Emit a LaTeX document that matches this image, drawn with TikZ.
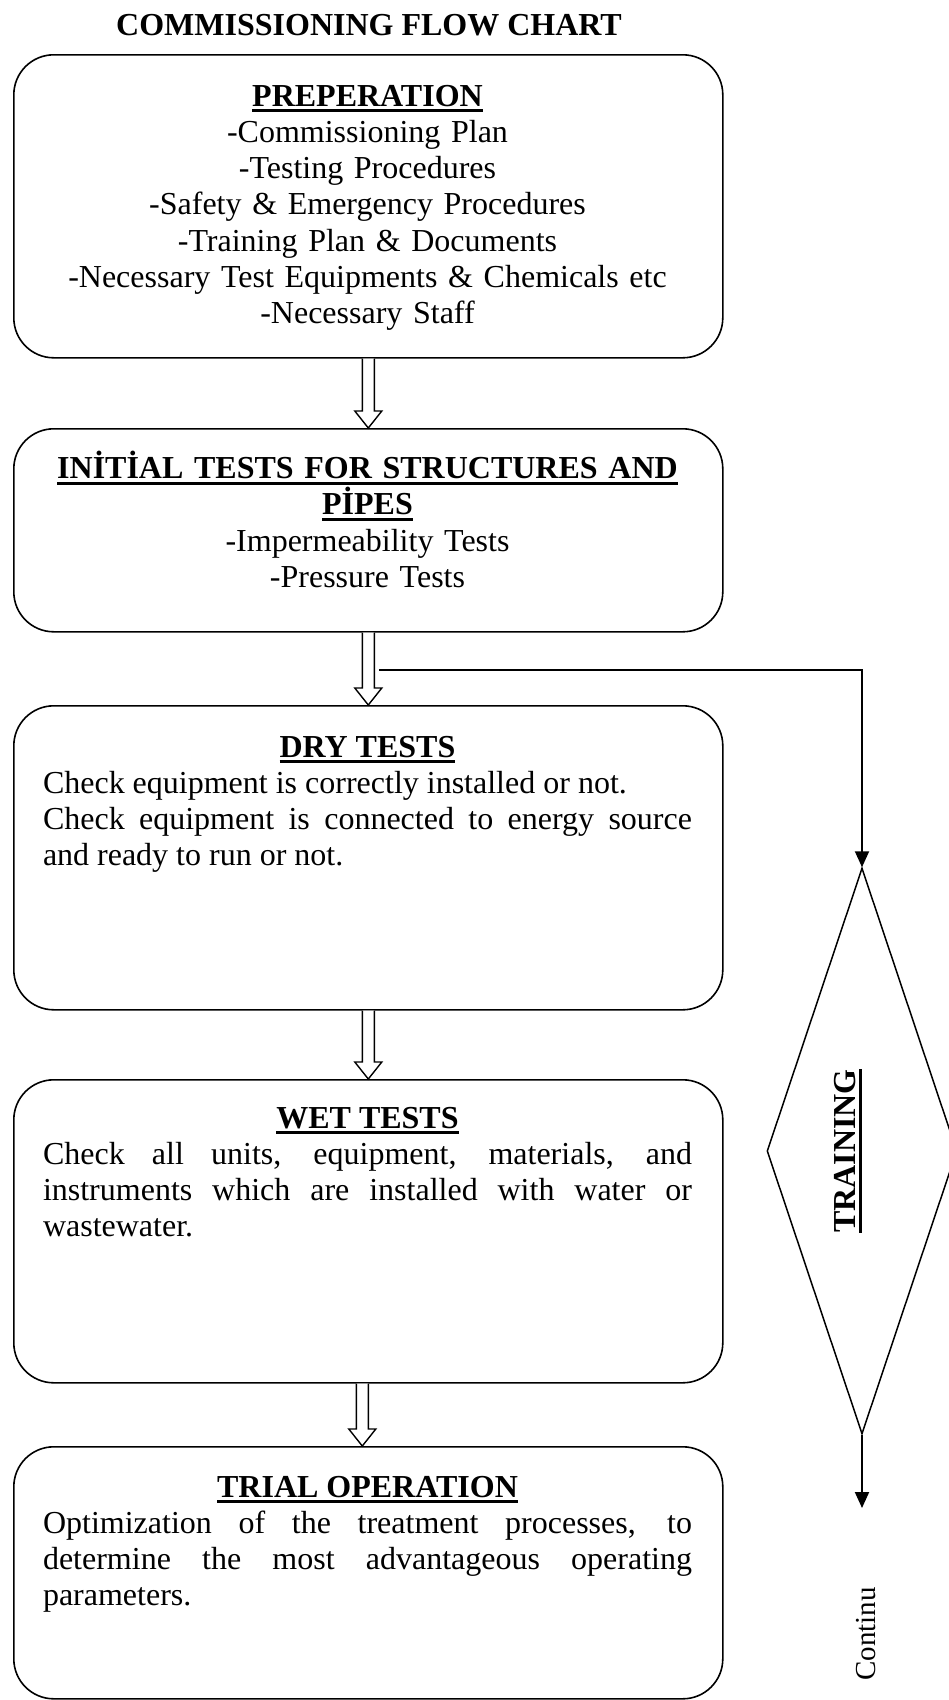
\documentclass[tikz,border=0pt]{standalone}
\usepackage{fontspec}
\setmainfont{Liberation Serif}
\usetikzlibrary{shapes.geometric,arrows.meta,calc}
\setlength\parindent{0pt}
\newcommand\ulbf[1]{\leavevmode\setbox0\hbox{\bfseries #1}\rlap{\rule[-6pt]{\wd0}{2.8pt}}\box0}
\newcommand\hollowarrow[3]{%
  \draw[harr] let \p1=(#1), \p2=(#2) in
    (\x1+#3-6,\y1) -- (\x1+#3-6,\y2+17) -- (\x1+#3-13.5,\y2+17) -- (\x1+#3,\y2)
    -- (\x1+#3+13.5,\y2+17) -- (\x1+#3+6,\y2+17) -- (\x1+#3+6,\y1);}
\tikzset{
  box/.style={draw, line width=1.6pt, rounded corners=40pt, minimum width=709pt, anchor=north west, inner sep=0pt},
  txt/.style={anchor=north, inner sep=0pt, text width=649pt, font=\fontsize{32}{36.2}\selectfont},
  harr/.style={line width=1.4pt, fill=white, line join=miter},
  conn/.style={line width=2pt, -{Triangle[width=14pt,length=16pt]}},
  dia/.style={diamond, draw, line width=1.5pt, minimum width=190pt, minimum height=566pt, inner sep=0pt}
}
\begin{document}
\begin{tikzpicture}[x=1pt,y=-1pt]
\useasboundingbox (0,0) rectangle (949,1700);
\fill[white] (0,0) rectangle (949,1700);

\node[anchor=base, inner sep=0pt, font=\fontsize{32}{36.2}\selectfont\bfseries] (title) at (369,35) {COMMISSIONING FLOW CHART};

\node[box, minimum height=303pt] (b1) at (13,54) {};
\node[box, minimum height=203pt] (b2) at (13,428) {};
\node[box, minimum height=304pt] (b3) at (13,705) {};
\node[box, minimum height=303pt] (b4) at (13,1079) {};
\node[box, minimum height=252pt] (b5) at (13,1446) {};

\node[txt, align=center] (t1) at (367.5,82) {\rule{0pt}{24pt}\ulbf{PREPERATION}\\
-Commissioning Plan\\
-Testing Procedures\\
-Safety \& Emergency Procedures\\
-Training Plan \& Documents\\
-Necessary Test Equipments \& Chemicals etc\\
-Necessary Staff};

\node[txt, align=center] (t2) at (367.5,451) {\rule{0pt}{24pt}\ulbf{INİTİAL TESTS FOR STRUCTURES AND}\\
\ulbf{PİPES}\\
-Impermeability Tests\\
-Pressure Tests};

\node[txt, align=justify] (t3) at (367.5,733) {\rule{0pt}{24pt}\hfill\ulbf{DRY TESTS}\hfill\null\par
Check equipment is correctly installed or not.\par
Check equipment is connected to energy source\linebreak and ready to run or not.};

\node[txt, align=justify] (t4) at (367.5,1104) {\rule{0pt}{24pt}\hfill\ulbf{WET TESTS}\hfill\null\par
Check all units, equipment, materials, and\linebreak instruments which are installed with water or\linebreak wastewater.};

\node[txt, align=justify] (t5) at (367.5,1473) {\rule{0pt}{24pt}\hfill\ulbf{TRIAL OPERATION}\hfill\null\par
Optimization of the treatment processes, to\linebreak determine the most advantageous operating\linebreak parameters.};

\hollowarrow{b1.south}{b2.north}{0}
\hollowarrow{b2.south}{b3.north}{0}
\hollowarrow{b3.south}{b4.north}{0}
\hollowarrow{b4.south}{b5.north}{-6}

\node[dia] (train) at (862,1151) {};
\node[rotate=90, inner sep=0pt, font=\fontsize{32}{36.2}\selectfont] (tl) at ($(train.center)+(-14,0)$) {\ulbf{TRAINING}};

\coordinate (c1) at (379,670);
\coordinate (endc) at (862,1508);
\draw[conn] (c1) -| (train.north);
\draw[conn] (train.south) -- (endc);

\node[rotate=90, inner sep=0pt, font=\fontsize{29}{33}\selectfont] (cont) at (866,1634) {Continu};
\end{tikzpicture}
\end{document}
